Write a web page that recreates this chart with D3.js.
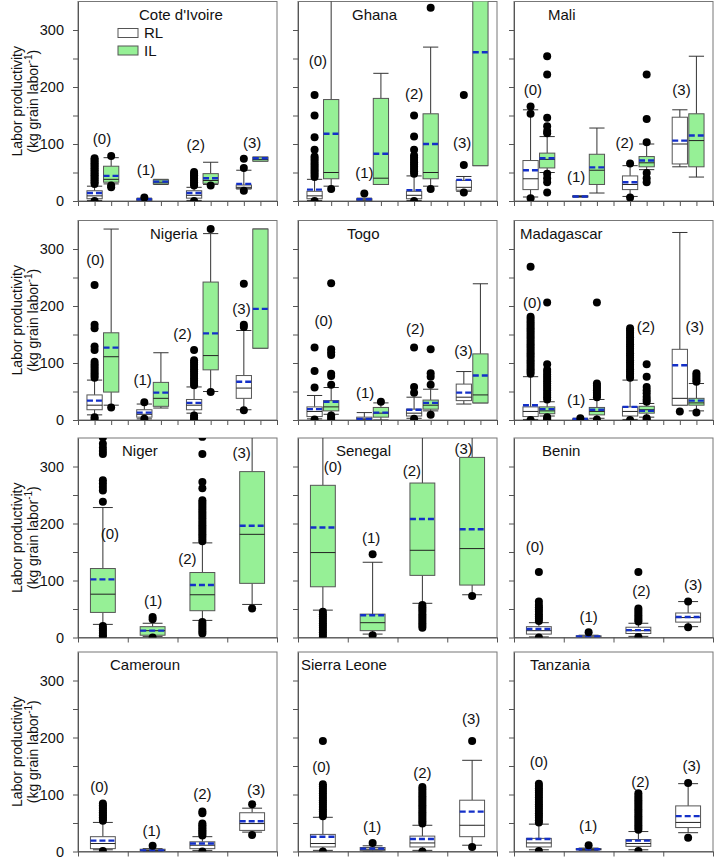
<!DOCTYPE html>
<html>
<head>
<meta charset="utf-8">
<script src="https://cdn.jsdelivr.net/npm/d3@7"></script>
<style>
  body { margin: 0; background: #fff; }
  svg { display: block; font-family: "Liberation Sans", Arial, sans-serif; }
</style>
</head>
<body>
<svg id="chart" width="717" height="858"></svg>
<script>
// box stats per group (0)..(3): lo/hi whisker ends, quartiles, median, mean, outliers
const coteRL = [
  {lo: 1, q1: 4, med: 9, q3: 18, hi: 26, mean: 14, out: [0, 30, 33, 36, 39, 42, 45, 48, 51, 54, 57, 60, 63, 66, 69, 72, 75]},
  {lo: 0, q1: 1, med: 2, q3: 4, hi: 5, mean: 3, out: [6]},
  {lo: 1, q1: 5, med: 10, q3: 18, hi: 24, mean: 14, out: [0, 27, 30, 33, 36, 39, 42, 45, 48, 51]},
  {lo: 21, q1: 22, med: 24, q3: 28, hi: 54, mean: 30, out: [74, 58, 18]}
];
const coteIL = [
  {lo: 30, q1: 33, med: 38, q3: 61, hi: 76, mean: 44, out: [79, 27, 24]},
  {lo: 29, q1: 30, med: 33, q3: 37, hi: 38, mean: 34, out: []},
  {lo: 29, q1: 31, med: 36, q3: 48, hi: 68, mean: 40, out: [27]},
  {lo: 70, q1: 70, med: 73, q3: 77, hi: 77, mean: 75, out: []}
];
const ghanaRL = [
  {lo: 1, q1: 4, med: 9, q3: 17, hi: 38, mean: 20, out: [186, 150, 112, 90, 78, 74, 70, 66, 62, 58, 54, 50, 46, 42, 0]},
  {lo: 0, q1: 1, med: 2, q3: 4, hi: 5, mean: 3, out: [13]},
  {lo: 1, q1: 4, med: 10, q3: 17, hi: 44, mean: 19, out: [150, 113, 90, 80, 76, 72, 68, 64, 60, 56, 52, 48, 0]},
  {lo: 17, q1: 19, med: 24, q3: 36, hi: 43, mean: 37, out: [186, 63, 15]}
];
const ghanaIL = [
  {lo: 26, q1: 39, med: 50, q3: 178, hi: 360, mean: 118, out: [21]},
  {lo: 29, q1: 29, med: 40, q3: 180, hi: 224, mean: 83, out: []},
  {lo: 26, q1: 39, med: 50, q3: 153, hi: 270, mean: 100, out: [339, 21]},
  {lo: 62, q1: 62, med: null, q3: 400, hi: 400, mean: 261, out: []}
];
const maliRL = [
  {lo: 7, q1: 20, med: 39, q3: 71, hi: 160, mean: 54, out: [166, 153, 5]},
  {lo: 7, q1: 7, med: 8, q3: 9, hi: 9, mean: 8, out: []},
  {lo: 8, q1: 20, med: 29, q3: 44, hi: 62, mean: 33, out: [66, 6]},
  {lo: 60, q1: 65, med: 100, q3: 147, hi: 160, mean: 106, out: []}
];
const maliIL = [
  {lo: 50, q1: 58, med: 73, q3: 84, hi: 113, mean: 75, out: [254, 222, 146, 131, 123, 119, 48, 40, 33, 15]},
  {lo: 14, q1: 29, med: 54, q3: 82, hi: 128, mean: 59, out: []},
  {lo: 55, q1: 60, med: 67, q3: 78, hi: 100, mean: 71, out: [222, 144, 103, 49, 40, 33]},
  {lo: 42, q1: 60, med: 106, q3: 153, hi: 254, mean: 115, out: []}
];
const nigeriaRL = [
  {lo: 9, q1: 18, med: 26, q3: 44, hi: 70, mean: 34, out: [237, 167, 161, 129, 123, 102, 98, 94, 90, 86, 82, 78, 74, 5, 1]},
  {lo: 2, q1: 5, med: 10, q3: 18, hi: 28, mean: 13, out: [31, 2]},
  {lo: 12, q1: 18, med: 26, q3: 36, hi: 58, mean: 30, out: [123, 105, 101, 97, 93, 89, 85, 81, 77, 73, 69, 65, 61, 8, 4, 1]},
  {lo: 18, q1: 38, med: 56, q3: 78, hi: 157, mean: 67, out: [239, 167, 163, 17]}
];
const nigeriaIL = [
  {lo: 26, q1: 49, med: 111, q3: 153, hi: 335, mean: 127, out: [22]},
  {lo: 21, q1: 24, med: 38, q3: 66, hi: 118, mean: 48, out: []},
  {lo: 50, q1: 88, med: 113, q3: 242, hi: 327, mean: 152, out: [335, 49]},
  {lo: 126, q1: 126, med: null, q3: 335, hi: 335, mean: 195, out: []}
];
const togoRL = [
  {lo: 2, q1: 6, med: 15, q3: 23, hi: 43, mean: 19, out: [127, 86, 57, 1]},
  {lo: 0, q1: 1, med: 2, q3: 5, hi: 13, mean: 2, out: []},
  {lo: 3, q1: 7, med: 12, q3: 19, hi: 40, mean: 18, out: [127, 58, 48, 2]},
  {lo: 28, q1: 34, med: 40, q3: 63, hi: 85, mean: 48, out: []}
];
const togoIL = [
  {lo: 10, q1: 16, med: 23, q3: 34, hi: 57, mean: 32, out: [240, 124, 119, 114, 81, 77, 62, 8, 4, 0]},
  {lo: 0, q1: 5, med: 12, q3: 22, hi: 30, mean: 13, out: [32]},
  {lo: 16, q1: 19, med: 26, q3: 35, hi: 54, mean: 30, out: [124, 82, 76, 62, 9]},
  {lo: 30, q1: 30, med: 44, q3: 116, hi: 239, mean: 78, out: []}
];
const madRL = [
  {lo: 1, q1: 6, med: 15, q3: 23, hi: 76, mean: 26, out: [269, 181, 177, 173, 169, 165, 161, 157, 153, 149, 145, 141, 137, 133, 129, 125, 121, 117, 113, 109, 105, 101, 97, 93, 89, 85, 81, 0]},
  {lo: 0, q1: 0, med: 1, q3: 2, hi: 3, mean: 2, out: [3]},
  {lo: 1, q1: 7, med: 15, q3: 23, hi: 70, mean: 23, out: [161, 157, 153, 149, 145, 141, 137, 133, 129, 125, 121, 117, 113, 109, 105, 101, 97, 93, 89, 85, 81, 77, 74, 0]},
  {lo: 26, q1: 26, med: 38, q3: 124, hi: 329, mean: 96, out: [15]}
];
const madIL = [
  {lo: 7, q1: 11, med: 16, q3: 23, hi: 32, mean: 19, out: [206, 98, 88, 84, 80, 76, 72, 68, 64, 60, 56, 52, 48, 44, 40, 36, 5, 2, 0]},
  {lo: 3, q1: 9, med: 15, q3: 22, hi: 36, mean: 18, out: [206, 64, 60, 56, 52, 48, 44, 40, 1]},
  {lo: 5, q1: 12, med: 18, q3: 24, hi: 29, mean: 16, out: [98, 76, 58, 52, 47, 41, 36, 32, 3, 0]},
  {lo: 16, q1: 26, med: 30, q3: 38, hi: 64, mean: 34, out: [82, 78, 74, 70, 67, 13]}
];
const nigerIL = [
  {lo: 23, q1: 44, med: 76, q3: 121, hi: 228, mean: 102, out: [351, 340, 333, 327, 322, 276, 270, 264, 258, 238, 20, 16, 12, 8, 4, 1]},
  {lo: 2, q1: 4, med: 12, q3: 19, hi: 25, mean: 12, out: [36, 32, 0]},
  {lo: 30, q1: 47, med: 75, q3: 114, hi: 166, mean: 92, out: [352, 322, 273, 262, 241, 237, 233, 229, 225, 221, 217, 213, 209, 205, 201, 197, 193, 189, 185, 181, 177, 173, 169, 27, 23, 19, 15, 11, 7]},
  {lo: 58, q1: 95, med: 181, q3: 291, hi: 400, mean: 196, out: [51]}
];
const senegalIL = [
  {lo: 48, q1: 89, med: 149, q3: 267, hi: 400, mean: 193, out: [45, 41, 37, 33, 29, 25, 21, 17, 13, 9, 5, 1]},
  {lo: 6, q1: 12, med: 26, q3: 41, hi: 132, mean: 39, out: [146, 4]},
  {lo: 60, q1: 109, med: 153, q3: 271, hi: 400, mean: 208, out: [57, 53, 49, 45, 41, 37, 33, 29, 25, 21, 17]},
  {lo: 75, q1: 92, med: 156, q3: 316, hi: 400, mean: 190, out: [73]}
];
const beninRL = [
  {lo: 1, q1: 6, med: 12, q3: 19, hi: 26, mean: 15, out: [115, 63, 57, 53, 49, 45, 41, 37, 33, 29, 0]},
  {lo: 0, q1: 0, med: 1, q3: 3, hi: 4, mean: 2, out: [9]},
  {lo: 2, q1: 7, med: 12, q3: 18, hi: 25, mean: 13, out: [115, 51, 47, 43, 39, 35, 31, 28, 1]},
  {lo: 19, q1: 27, med: 35, q3: 43, hi: 63, mean: 36, out: [63, 18]}
];
const camRL = [
  {lo: 3, q1: 5, med: 14, q3: 26, hi: 51, mean: 19, out: [84, 81, 78, 75, 72, 69, 66, 63, 60, 57, 54, 1]},
  {lo: 0, q1: 1, med: 2, q3: 4, hi: 5, mean: 2, out: [10]},
  {lo: 2, q1: 5, med: 11, q3: 17, hi: 26, mean: 14, out: [70, 67, 49, 46, 43, 40, 37, 34, 31, 28, 0]},
  {lo: 34, q1: 37, med: 49, q3: 68, hi: 76, mean: 53, out: [83, 29]}
];
const sierraRL = [
  {lo: 2, q1: 8, med: 14, q3: 30, hi: 60, mean: 26, out: [194, 118, 114, 110, 106, 102, 98, 94, 90, 86, 82, 78, 74, 70, 66, 62, 0]},
  {lo: 0, q1: 2, med: 4, q3: 7, hi: 10, mean: 5, out: [15]},
  {lo: 2, q1: 8, med: 15, q3: 27, hi: 46, mean: 22, out: [113, 109, 105, 101, 97, 93, 89, 85, 81, 77, 73, 69, 65, 61, 57, 53, 49, 0]},
  {lo: 11, q1: 26, med: 46, q3: 90, hi: 160, mean: 70, out: [194, 8]}
];
const tanzRL = [
  {lo: 3, q1: 8, med: 15, q3: 23, hi: 48, mean: 22, out: [119, 115, 111, 107, 103, 99, 95, 91, 87, 83, 79, 75, 71, 67, 63, 59, 55, 51, 1]},
  {lo: 2, q1: 3, med: 4, q3: 5, hi: 6, mean: 4, out: [11]},
  {lo: 3, q1: 9, med: 14, q3: 21, hi: 35, mean: 19, out: [102, 98, 94, 90, 86, 82, 78, 74, 70, 66, 62, 58, 54, 50, 46, 42, 38, 1]},
  {lo: 33, q1: 42, med: 51, q3: 80, hi: 119, mean: 62, out: [120, 24]}
];

// where the "(0)".."(3)" tags sit, as [x in group units, y value]
const coteLab = [[1.45, 110], [4.1, 54], [7.1, 98], [10.5, 103]];
const ghanaLab = [[1.2, 246], [4.0, 50], [7.0, 188], [9.9, 102]];
const maliLab = [[1.14, 195], [3.75, 43], [6.67, 102], [10.1, 195]];
const nigeriaLab = [[1.05, 281], [3.9, 70], [6.3, 152], [9.86, 196]];
const togoLab = [[1.55, 175], [4.05, 48], [7.07, 160], [9.98, 122]];
const madLab = [[1.1, 206], [3.75, 35], [7.95, 163], [10.9, 164]];
const nigerLab = [[0.64, 182], [1.51, 65], [2.2, 139], [3.29, 325]];
const senegalLab = [[0.7, 299], [1.47, 175], [2.29, 292], [3.33, 331]];
const beninLab = [[0.42, 160], [1.5, 36], [2.56, 82], [3.6, 92]];
const camLab = [[0.43, 113], [1.48, 37], [2.5, 102], [3.58, 108]];
const sierraLab = [[0.47, 149], [1.49, 43], [2.5, 138], [3.48, 233]];
const tanzLab = [[0.5, 157], [1.49, 46], [2.54, 122], [3.57, 151]];

const groupNames = ["(0)", "(1)", "(2)", "(3)"];
const seriesNames = ["RL", "IL"];
const yTicks = [0, 50, 100, 150, 200, 250, 300];

const panels = [
  {name: "Cote d'Ivoire", rl: coteRL, il: coteIL, lab: coteLab, tx: 61},
  {name: "Ghana", rl: ghanaRL, il: ghanaIL, lab: ghanaLab, tx: 54},
  {name: "Mali", rl: maliRL, il: maliIL, lab: maliLab, tx: 34},
  {name: "Nigeria", rl: nigeriaRL, il: nigeriaIL, lab: nigeriaLab, tx: 72},
  {name: "Togo", rl: togoRL, il: togoIL, lab: togoLab, tx: 49},
  {name: "Madagascar", rl: madRL, il: madIL, lab: madLab, tx: 6},
  {name: "Niger", il: nigerIL, lab: nigerLab, tx: 44},
  {name: "Senegal", il: senegalIL, lab: senegalLab, tx: 38},
  {name: "Benin", rl: beninRL, lab: beninLab, tx: 28},
  {name: "Cameroun", rl: camRL, lab: camLab, tx: 32},
  {name: "Sierra Leone", rl: sierraRL, lab: sierraLab, tx: 3},
  {name: "Tanzania", rl: tanzRL, lab: tanzLab, tx: 16}
];

const svg = d3.select("#chart");
const colLeft = [78, 298, 514];
const rowTop = [1.5, 220.5, 438, 652];
const pw = 199, ph = 199.5;
const green = "#96f096";
const meanBlue = "#1430c8";
const axisCol = "#555";

let drawBox = function(g, x, y, s, cx, bw, fill, capFrac) {
  if (!s) return;
  let xc = x(cx);
  let half = (x(bw) - x(0)) / 2;
  let cap = half * capFrac;
  // whiskers
  g.append("line").attr("x1", xc).attr("x2", xc).attr("y1", y(s.q3)).attr("y2", y(s.hi))
    .attr("stroke", "#333").attr("stroke-width", 1);
  g.append("line").attr("x1", xc).attr("x2", xc).attr("y1", y(s.q1)).attr("y2", y(s.lo))
    .attr("stroke", "#333").attr("stroke-width", 1);
  [s.hi, s.lo].forEach(function(v) {
    g.append("line").attr("x1", xc - cap).attr("x2", xc + cap).attr("y1", y(v)).attr("y2", y(v))
      .attr("stroke", "#333").attr("stroke-width", 1);
  });
  g.append("rect")
    .attr("x", xc - half).attr("width", half * 2)
    .attr("y", y(s.q3)).attr("height", Math.max(y(s.q1) - y(s.q3), 0.5))
    .attr("fill", fill).attr("stroke", "#555").attr("stroke-width", 1);
  if (s.med !== null) {
    g.append("line").attr("x1", xc - half).attr("x2", xc + half).attr("y1", y(s.med)).attr("y2", y(s.med))
      .attr("stroke", "#222").attr("stroke-width", 1);
  }
  g.append("line").attr("x1", xc - half).attr("x2", xc + half).attr("y1", y(s.mean)).attr("y2", y(s.mean))
    .attr("stroke", meanBlue).attr("stroke-width", 2.4).attr("stroke-dasharray", "6,3");
  g.selectAll(null).data(s.out).enter().append("circle")
    .attr("cx", xc).attr("cy", d => y(d)).attr("r", 4).attr("fill", "#000");
};

panels.forEach(function(p, i) {
  let col = i % 3, row = Math.floor(i / 3);
  let paired = p.rl && p.il;
  let g = svg.append("g").attr("transform", "translate(" + colLeft[col] + "," + rowTop[row] + ")");
  let x = d3.scaleLinear().domain(paired ? [0, 12] : [0, 4]).range([0, pw]);
  let y = d3.scaleLinear().domain([0, 350]).range([ph, 0]);

  g.append("rect").attr("width", pw).attr("height", ph).attr("fill", "none")
    .attr("stroke", "#777").attr("stroke-width", 1);

  let ya = g.append("g").call(d3.axisLeft(y).tickValues(yTicks).tickSize(5).tickPadding(9).tickSizeOuter(0)
    .tickFormat(d => (col === 0 && d % 100 === 0) ? d : ""));
  let xa = g.append("g").attr("transform", "translate(0," + ph + ")")
    .call(d3.axisBottom(x).ticks(paired ? 12 : 4).tickSize(5).tickSizeOuter(0).tickFormat(""));
  [ya, xa].forEach(function(a) {
    a.select(".domain").attr("stroke", axisCol);
    a.selectAll(".tick line").attr("stroke", axisCol);
    a.selectAll("text").attr("font-size", 14.5).attr("fill", "#111")
      .attr("font-family", "Liberation Sans, Arial, sans-serif");
  });

  let clipId = "clip" + i;
  g.append("clipPath").attr("id", clipId).append("rect").attr("width", pw).attr("height", ph);
  let marks = g.append("g").attr("clip-path", "url(#" + clipId + ")");

  for (let k = 0; k < 4; k++) {
    if (paired) {
      drawBox(marks, x, y, p.rl[k], 1 + 3 * k, 0.92, "#fff", 1.0);
      drawBox(marks, x, y, p.il[k], 2 + 3 * k, 0.92, green, 1.0);
    } else {
      let s = p.rl ? p.rl[k] : p.il[k];
      drawBox(marks, x, y, s, 0.5 + k, 0.5, p.rl ? "#fff" : green, 0.8);
    }
  }

  let labX = d3.scaleLinear().domain(paired ? [0, 12] : [0, 4]).range([0, pw]);
  g.selectAll(".grp").data(p.lab).enter().append("text")
    .attr("x", d => labX(d[0])).attr("y", d => y(d[1])).attr("dy", "0.35em")
    .attr("text-anchor", "middle").attr("font-size", 15).attr("fill", "#111")
    .text((d, k) => groupNames[k]);

  g.append("text").attr("x", p.tx).attr("y", 18).attr("font-size", 15).attr("fill", "#111").text(p.name);

  if (i === 0) {
    seriesNames.forEach(function(nm, k) {
      g.append("rect").attr("x", 40).attr("y", 27 + k * 17.5).attr("width", 20).attr("height", 9)
        .attr("fill", k === 0 ? "#fff" : green).attr("stroke", "#555");
      g.append("text").attr("x", 66).attr("y", 36.5 + k * 17.5).attr("font-size", 15).attr("fill", "#111").text(nm);
    });
  }

  if (col === 0) {
    let cy = rowTop[row] + ph / 2;
    let t = svg.append("g").attr("transform", "translate(0," + cy + ") rotate(-90)");
    t.append("text").attr("x", 0).attr("y", 22).attr("text-anchor", "middle").attr("font-size", 14)
      .attr("fill", "#111").text("Labor productivity");
    let t2 = t.append("text").attr("x", 0).attr("y", 38).attr("text-anchor", "middle").attr("font-size", 14)
      .attr("fill", "#111");
    t2.append("tspan").text("(kg grain labor");
    t2.append("tspan").attr("font-size", 10).attr("dy", -6).text("-1");
    t2.append("tspan").attr("dy", 6).text(")");
  }
});
</script>
</body>
</html>
